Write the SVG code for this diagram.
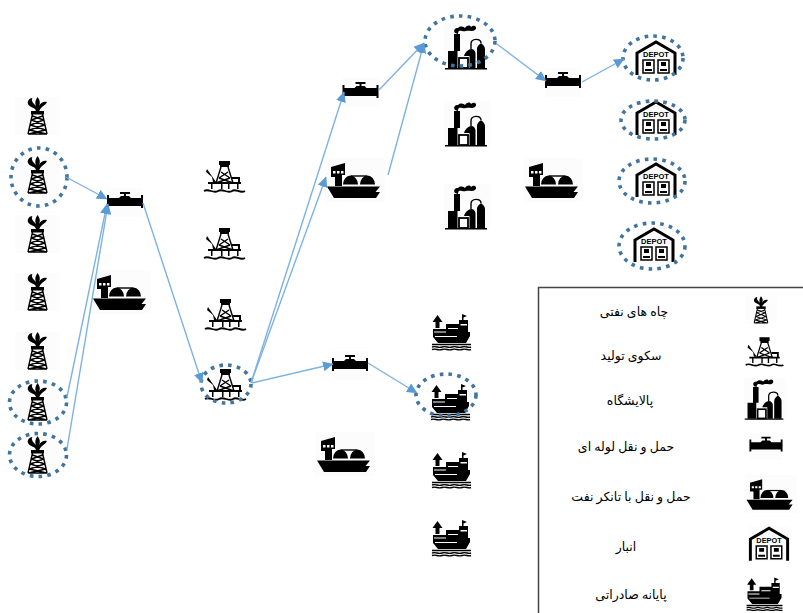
<svg xmlns="http://www.w3.org/2000/svg" width="803" height="613" viewBox="0 0 803 613">
<style>
.ring{fill:none;stroke:#41759f;stroke-width:3.600;stroke-dasharray:3.600 5.200}
.conn{fill:none;stroke:#7db2e3;stroke-width:1.4;marker-end:url(#arr)}
.lab{font-family:"Liberation Serif","DejaVu Sans",sans-serif;font-size:12.500px;fill:#000;text-anchor:middle}
.bg{fill:#fcfcfc}
.l{fill:none;stroke:#000;stroke-width:1.4}
</style>
<defs>
<marker id="arr" markerUnits="userSpaceOnUse" markerWidth="11" markerHeight="10" refX="10" refY="5" orient="auto"><path d="M0 0L10.500 5L0 10Z" fill="#5b9bd5"/></marker>
<symbol id="well" overflow="visible">
<rect class="bg" x="-22" y="-19" width="44" height="38"/>
<path d="M-1.500-4C-1-9-8-8-9.500-12C-10.500-15-8-18-5-18C-7-15-4-13-1.500-10C-3-13-2-16 0-19C2.500-16 3-13 1.500-10C3-13 6-15 9.500-14C8-10 3-10 1.500-4Z"/>
<rect x="-6.500" y="-5" width="13" height="3.500"/>
<path class="l" d="M-5-2L-9.500 18M5-2L9.500 18M-5 0L6 4M5 0L-6 4M-6 4L7 9M6 4L-7 9M-7 9L8 14M7 9L-8 14M-8 14L9 18M8 14L-9 18M-9.500 18H9.500"/>
</symbol>
<symbol id="pipe" overflow="visible">
<rect class="bg" x="-18" y="-13" width="36" height="29"/>
<path d="M-18-6H-16V-3H-6L-4-5H-1V-7H-5V-9H5V-7H1V-5H4L6-3H16V-6H18V7H16V5H-16V7H-18Z"/>
</symbol>
<symbol id="ship" overflow="visible">
<rect class="bg" x="-29" y="-22" width="60" height="44"/>
<path d="M-23-13L-9-17V-5H-12V6H-19V-3H-23Z"/>
<path fill="#fff" d="M-21-9h2.500v2.500h-2.500zM-17-9h2.500v2.500h-2.500zM-13-9h2.500v2.500h-2.500z"/>
<path d="M-11 4.500A7.500 9 0 0 1 4 4.500ZM6 4.500A7.500 9 0 0 1 21 4.500Z"/>
<path class="l" d="M-3-4H13"/>
<path d="M-27 6.500H26L21.500 12H26L22 18H-20Z"/>
</symbol>
<symbol id="refinery" overflow="visible">
<rect class="bg" x="-23" y="-24" width="46" height="46"/>
<path d="M-13-14H-7V3H-9.500V20.500H-19V3H-13Z"/>
<path d="M-12-15C-14-18-12-20-9-20C-6-23-3-21-2-20C0-23 3-23 4-21C7-24 11-21 8-18C5-16 2-18-1-17C-4-16-6-18-8-17C-9-16-9-15-9-14Z"/>
<rect x="-8" y="10" width="9" height="10" fill="none" stroke="#000" stroke-width="1.800"/>
<path d="M-3 8C-2 4 2 1 4 1C7 1 8 3 8.500 5V20.500H2.500V8Z"/>
<path d="M10 20.500V1C10-2 13-4 14-5C15-4 18-2 18 1V20.500Z"/>
<path class="l" d="M4 1V-4C4-10 14-10 14-5"/>
<path d="M-22 20H20V21.500H-22Z"/>
</symbol>
<symbol id="depot" overflow="visible">
<rect class="bg" x="-21" y="-18" width="42" height="36"/>
<path d="M-19 17V-5L0-16L19-5V17" fill="none" stroke="#000" stroke-width="3"/>
<text x="0" y="-1.500" text-anchor="middle" font-family="Liberation Sans,sans-serif" font-size="7.500" font-weight="700">DEPOT</text>
<path d="M-13 2H-2V15H-13ZM2 2H13V15H2Z" fill="#fff" stroke="#000" stroke-width="1.500"/>
<path d="M-10 4H-5V8H-10ZM5 4H10V8H5ZM-11 11H-4V13H-11ZM4 11H11V13H4Z"/>
</symbol>
<symbol id="rig" overflow="visible">
<path d="M-6-17H5V-13H-6ZM-5-13H4V-11H-5Z"/>
<path class="l" d="M-4-11L-9 5M3-11L8 5M-4-6L5 0M3-6L-6 0M-6 0L8 5M5 0L-9 5"/>
<path d="M-17 4H16V6H-17ZM-14 6H-12.500V11H-14ZM-4 6H-2.500V11H-4ZM3 6H4.500V11H3ZM12 6H13.500V11H12Z"/>
<path d="M-18-9L-9 4H-12L-13-1L-19-6Z"/>
<path d="M7-1H15V5H13V1H7Z"/>
<path d="M-21 13C-16 10-12 16-7 13C-2 10 2 16 7 13C11 10 15 16 20 13" fill="none" stroke="#000" stroke-width="1.800"/>
</symbol>
<symbol id="term" overflow="visible">
<path d="M-14.500-17L-9.500-10H-12.500V-4H-16.500V-10H-19.500Z"/>
<path d="M10-18L15-16L11.500-14.500V-12H16V0H18V4L14 11H-14L-19 5V-3H-6V-8H7V-12H10Z"/>
<path fill="#fff" d="M-18-.5H-6V.5H-18ZM8.500-8H15V-6.500H8.500ZM-17 4H5V5H-17ZM-4-4H6V-3H-4Z"/>
<path class="l" d="M-20 12.500H19M-20 15C-16 13.500-14 16.500-10 15C-6 13.500-4 16.500 0 15C4 13.500 6 16.500 10 15C14 13.500 16 16.500 19 15M-20 17.500C-16 16-14 19-10 17.500C-6 16-4 19 0 17.500C4 16 6 19 10 17.500C14 16 16 19 19 17.500"/>
</symbol>
</defs>
<g id="well-1"><use href="#well" x="37.500" y="116"/></g>
<g id="well-2"><use href="#well" x="37.500" y="175"/><ellipse class="ring" cx="39" cy="177" rx="28" ry="29"/></g>
<g id="well-3"><use href="#well" x="37.500" y="234"/></g>
<g id="well-4"><use href="#well" x="37.500" y="292"/></g>
<g id="well-5"><use href="#well" x="37.500" y="351"/></g>
<g id="well-6"><use href="#well" x="37.500" y="402"/><ellipse class="ring" cx="38" cy="402.500" rx="28.500" ry="21.500"/></g>
<g id="well-7"><use href="#well" x="37.500" y="455"/><ellipse class="ring" cx="38" cy="455" rx="28.500" ry="21.500"/></g>
<g id="pipe-1"><use href="#pipe" x="125" y="201"/></g>
<g id="ship-1"><use href="#ship" x="120" y="292"/></g>
<g id="rig-1"><use href="#rig" x="225" y="178"/></g>
<g id="rig-2"><use href="#rig" x="225" y="245"/></g>
<g id="rig-3"><use href="#rig" x="226" y="316"/></g>
<g id="rig-4"><use href="#rig" x="226" y="386"/><ellipse class="ring" cx="226" cy="384" rx="25" ry="19"/></g>
<g id="pipe-2"><use href="#pipe" x="360.500" y="91"/></g>
<g id="ship-2"><use href="#ship" x="354" y="180"/></g>
<g id="pipe-4"><use href="#pipe" x="350" y="364"/></g>
<g id="ship-4"><use href="#ship" x="344" y="454"/></g>
<g id="refinery-1"><use href="#refinery" x="467" y="48"/><ellipse class="ring" cx="460" cy="41" rx="35" ry="25"/></g>
<g id="refinery-2"><use href="#refinery" x="467" y="125"/></g>
<g id="refinery-3"><use href="#refinery" x="467" y="208"/></g>
<g id="term-1"><use href="#term" x="452" y="332"/></g>
<g id="term-2"><use href="#term" x="451" y="402"/><ellipse class="ring" cx="446" cy="395" rx="30" ry="21"/></g>
<g id="term-3"><use href="#term" x="452" y="470"/></g>
<g id="term-4"><use href="#term" x="452" y="538"/></g>
<g id="pipe-3"><use href="#pipe" x="563" y="81"/></g>
<g id="ship-3"><use href="#ship" x="552" y="180"/></g>
<g id="depot-1"><use href="#depot" x="656" y="58"/><ellipse class="ring" cx="653" cy="58" rx="30" ry="22"/></g>
<g id="depot-2"><use href="#depot" x="656" y="118"/><ellipse class="ring" cx="653" cy="120" rx="32" ry="19"/></g>
<g id="depot-3"><use href="#depot" x="656" y="180"/><ellipse class="ring" cx="652" cy="181" rx="33" ry="22"/></g>
<g id="depot-4"><use href="#depot" x="654" y="245"/><ellipse class="ring" cx="652" cy="246" rx="33" ry="23"/></g>
<g id="connectors">
<path class="conn" d="M66 177L107 199"/>
<path class="conn" d="M67 397L107 204"/>
<path class="conn" d="M67 449L108 204"/>
<path class="conn" d="M143 203L202 383"/>
<path class="conn" d="M251 383L344 92"/>
<path class="conn" d="M251 383L326 177"/>
<path class="conn" d="M388 175L424 43"/>
<path class="conn" d="M379 90L424 43"/>
<path class="conn" d="M497 44L546 81"/>
<path class="conn" d="M582 82L624 59"/>
<path class="conn" d="M252 383L333 364"/>
<path class="conn" d="M368 363L417 393"/>
</g>
<g id="legend">
<rect x="538.500" y="287.500" width="270" height="330" fill="#fff" stroke="#444" stroke-width="1.500"/>
<g id="legend-well"><use href="#well" transform="translate(761 310) scale(.72)"/><text class="lab" x="634" y="316">چاه های نفتی</text></g>
<g id="legend-rig"><use href="#rig" transform="translate(765 353) scale(.92)"/><text class="lab" x="631" y="360">سکوی تولید</text></g>
<g id="legend-refinery"><use href="#refinery" transform="translate(765 400) scale(.92)"/><text class="lab" x="630" y="405">پالایشگاه</text></g>
<g id="legend-pipe"><use href="#pipe" transform="translate(766 445) scale(.92)"/><text class="lab" x="626" y="451">حمل و نقل لوله ای</text></g>
<g id="legend-ship"><use href="#ship" transform="translate(770 494) scale(.87)"/><text class="lab" x="631" y="501">حمل و نقل با تانکر نفت</text></g>
<g id="legend-depot"><use href="#depot" transform="translate(769 544) scale(.98)"/><text class="lab" x="626" y="551">انبار</text></g>
<g id="legend-term"><use href="#term" transform="translate(765 594) scale(.92)"/><text class="lab" x="631" y="599">پایانه صادراتی</text></g>
</g>
</svg>
